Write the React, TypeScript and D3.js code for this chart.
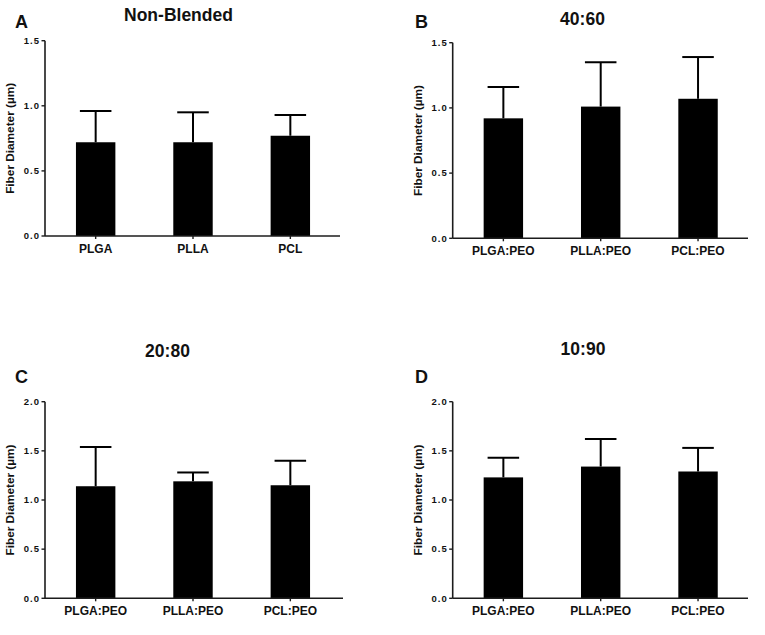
import * as d3 from 'd3';

// categories
const catsA = ['PLGA', 'PLLA', 'PCL'];
const catsBlend = ['PLGA:PEO', 'PLLA:PEO', 'PCL:PEO'];

// mean fiber diameters (µm)
const meansA = [0.72, 0.72, 0.77];
const meansB = [0.92, 1.01, 1.07];
const meansC = [1.14, 1.19, 1.15];
const meansD = [1.23, 1.34, 1.29];

// standard deviations (upper error bars)
const sdA = [0.24, 0.23, 0.16];
const sdB = [0.24, 0.34, 0.32];
const sdC = [0.40, 0.09, 0.25];
const sdD = [0.20, 0.28, 0.24];

const ticks15 = [0, 0.5, 1.0, 1.5];
const ticks20 = [0, 0.5, 1.0, 1.5, 2.0];

const titles = ['Non-Blended', '40:60', '20:80', '10:90'];
const letters = ['A', 'B', 'C', 'D'];

const FONT = '"Liberation Sans", Arial, sans-serif';

interface PanelProps {
  letter: string;
  title: string;
  cats: string[];
  means: number[];
  sds: number[];
  ticks: number[];
  left: number;
  right: number;
  top: number;
  bottom: number;
  titleX: number;
  titleY: number;
  letterX: number;
  letterY: number;
}

function Panel(p: PanelProps) {
  const yMax = p.ticks[p.ticks.length - 1];
  const y = d3.scaleLinear().domain([0, yMax]).range([p.bottom, p.top]);
  const x = d3.scaleBand<string>()
    .domain(p.cats)
    .range([p.left, p.left + 296])
    .paddingInner(0.595)
    .paddingOuter(0.318);
  const bw = x.bandwidth();
  const capW = bw * 0.8;
  const axisColor = '#1c1c1c';

  return (
    <g>
      <text x={p.letterX} y={p.letterY} fontSize={18} fontWeight="bold" fontFamily={FONT} fill="#111">
        {p.letter}
      </text>
      <text x={p.titleX} y={p.titleY} fontSize={17.5} fontWeight="bold" fontFamily={FONT} textAnchor="middle" fill="#111">
        {p.title}
      </text>
      <text
        transform={`translate(${p.left - 31},${(p.top + p.bottom) / 2}) rotate(-90)`}
        fontSize={11.8}
        fontWeight="bold"
        fontFamily={FONT}
        textAnchor="middle"
        fill="#111"
      >
        Fiber Diameter (µm)
      </text>

      {/* bars */}
      {p.cats.map((c, i) => (
        <rect key={c} x={x(c)} y={y(p.means[i])} width={bw} height={p.bottom - y(p.means[i])} fill="#000" />
      ))}

      {/* error bars */}
      {p.cats.map((c, i) => {
        const cx = (x(c) as number) + bw / 2;
        const yt = y(p.means[i] + p.sds[i]);
        return (
          <g key={c} stroke="#000" strokeWidth={2}>
            <line x1={cx} x2={cx} y1={y(p.means[i])} y2={yt} />
            <line x1={cx - capW / 2} x2={cx + capW / 2} y1={yt} y2={yt} />
          </g>
        );
      })}

      {/* y axis */}
      <line x1={p.left} x2={p.left} y1={p.top} y2={p.bottom} stroke={axisColor} strokeWidth={1.6} />
      {p.ticks.map(t => (
        <g key={t}>
          <line x1={p.left - 3.5} x2={p.left} y1={y(t)} y2={y(t)} stroke={axisColor} strokeWidth={1.4} />
          <text
            x={p.left - 5}
            y={y(t)}
            dy="0.35em"
            textAnchor="end"
            fontSize={9.5}
            letterSpacing={1}
            fontWeight="bold"
            fontFamily={FONT}
            fill="#111"
          >
            {d3.format('.1f')(t)}
          </text>
        </g>
      ))}

      {/* x axis */}
      <line x1={p.left} x2={p.right} y1={p.bottom} y2={p.bottom} stroke={axisColor} strokeWidth={1.6} />
      {p.cats.map(c => {
        const cx = (x(c) as number) + bw / 2;
        return (
          <g key={c}>
            <line x1={cx} x2={cx} y1={p.bottom} y2={p.bottom + 3} stroke={axisColor} strokeWidth={1.4} />
            <text x={cx} y={p.bottom + 17} textAnchor="middle" fontSize={12} fontWeight="bold" fontFamily={FONT} fill="#111">
              {c}
            </text>
          </g>
        );
      })}
    </g>
  );
}

export default function App() {
  return (
    <div style={{ position: 'absolute', left: 0, top: 0 }}>
      <svg width={765} height={635} style={{ display: 'block', background: '#fff' }}>
        <Panel
          letter={letters[0]} title={titles[0]} cats={catsA} means={meansA} sds={sdA} ticks={ticks15}
          left={45} right={340} top={40.7} bottom={236}
          titleX={178.5} titleY={21} letterX={15} letterY={28}
        />
        <Panel
          letter={letters[1]} title={titles[1]} cats={catsBlend} means={meansB} sds={sdB} ticks={ticks15}
          left={452.7} right={748} top={42.7} bottom={238.3}
          titleX={582.5} titleY={25} letterX={415} letterY={28}
        />
        <Panel
          letter={letters[2]} title={titles[2]} cats={catsBlend} means={meansC} sds={sdC} ticks={ticks20}
          left={45} right={343} top={401.7} bottom={598.3}
          titleX={167.5} titleY={356.5} letterX={15} letterY={383}
        />
        <Panel
          letter={letters[3]} title={titles[3]} cats={catsBlend} means={meansD} sds={sdD} ticks={ticks20}
          left={452.7} right={748} top={401.7} bottom={598.3}
          titleX={583} titleY={355} letterX={415} letterY={383}
        />
      </svg>
    </div>
  );
}
